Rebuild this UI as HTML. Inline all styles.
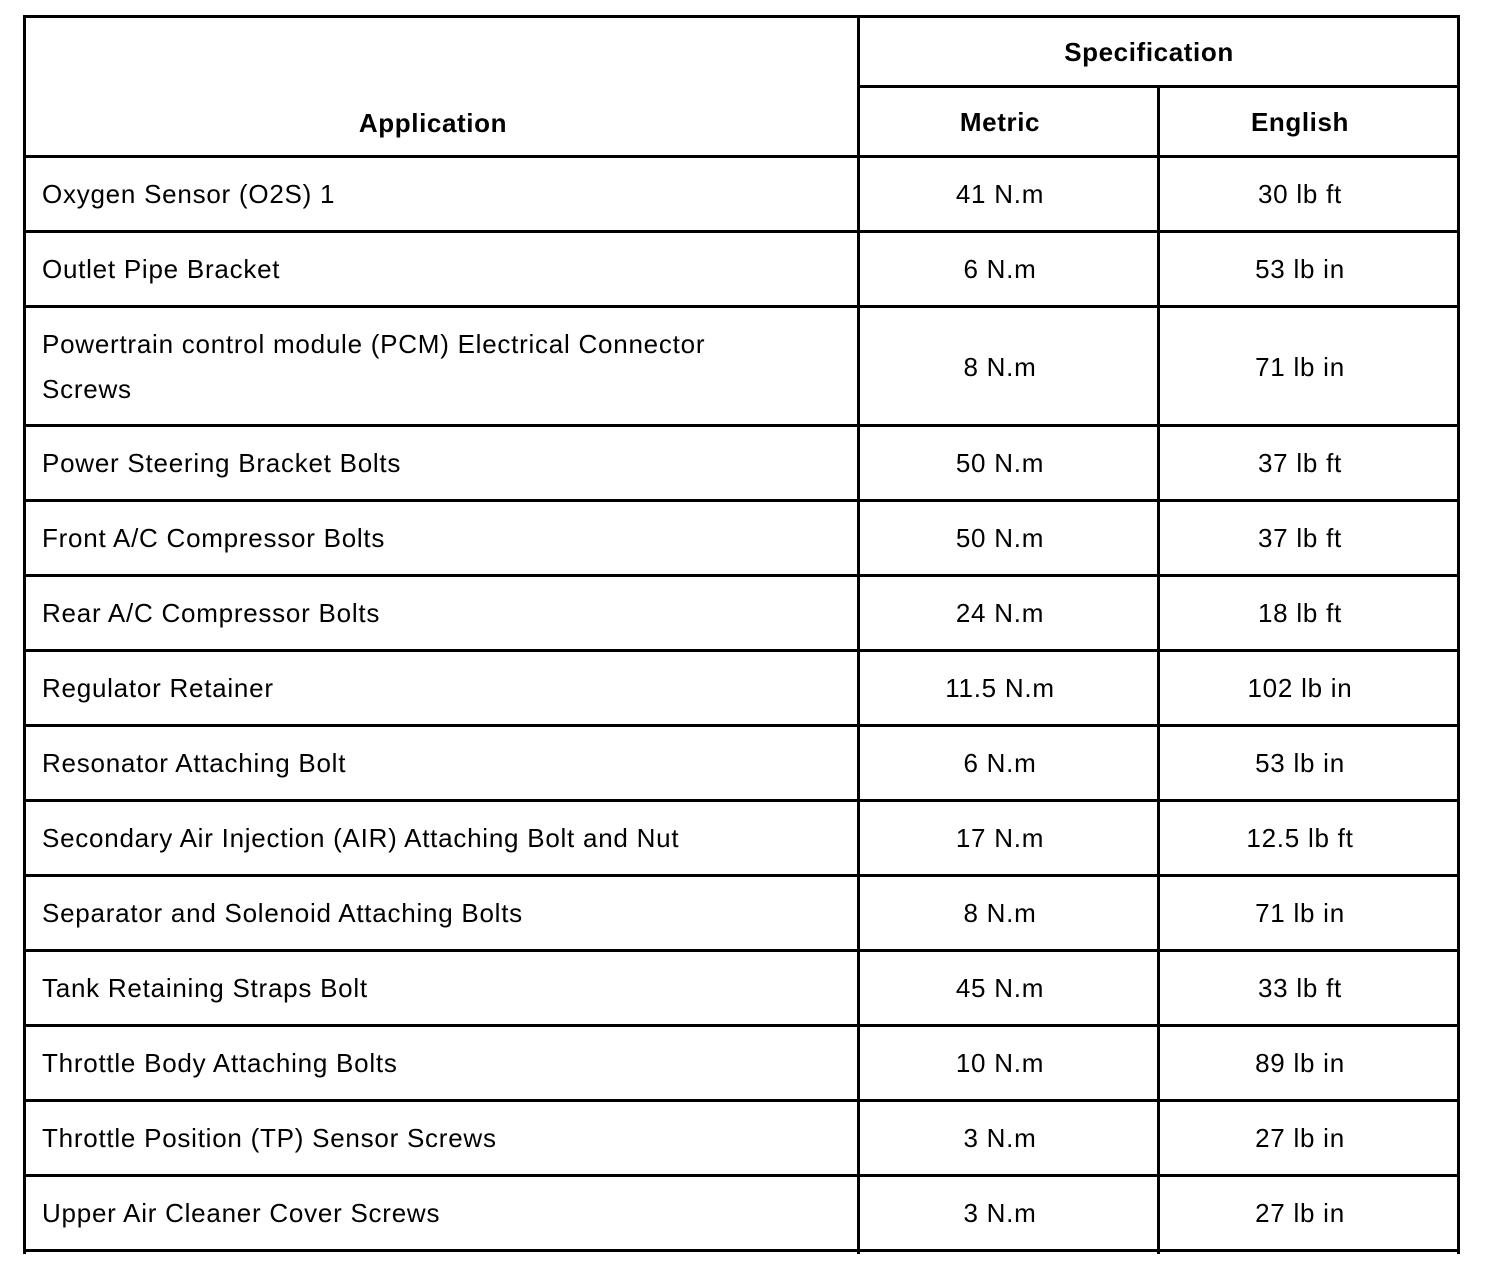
<!DOCTYPE html>
<html>
<head>
<meta charset="utf-8">
<style>
  html, body { margin:0; padding:0; background:#fff; }
  body { width:1504px; height:1272px; position:relative; overflow:hidden;
         font-family:"Liberation Sans", Arial, sans-serif; color:#000; }
  .h { position:absolute; background:#000; height:3px; }
  .v { position:absolute; background:#000; width:3px; }
  .c { position:absolute; display:flex; align-items:center; font-size:26px; letter-spacing:0.75px; white-space:nowrap; transform:translateY(1px); }
  .l { left:42px; width:800px; }
  .m { left:900px; width:200px; justify-content:center; }
  .e { left:1200px; width:200px; justify-content:center; }
  .b { font-weight:bold; letter-spacing:0.6px; }
  .two { line-height:45px; white-space:normal; }
</style>
</head>
<body>
<!-- horizontal lines -->
<div class="h" style="top:15px;left:23px;width:1437px;"></div>
<div class="h" style="top:85px;left:857px;width:603px;"></div>
<div class="h" style="top:155px;left:23px;width:1437px;"></div>
<div class="h" style="top:230px;left:23px;width:1437px;"></div>
<div class="h" style="top:305px;left:23px;width:1437px;"></div>
<div class="h" style="top:424px;left:23px;width:1437px;"></div>
<div class="h" style="top:499px;left:23px;width:1437px;"></div>
<div class="h" style="top:574px;left:23px;width:1437px;"></div>
<div class="h" style="top:649px;left:23px;width:1437px;"></div>
<div class="h" style="top:724px;left:23px;width:1437px;"></div>
<div class="h" style="top:799px;left:23px;width:1437px;"></div>
<div class="h" style="top:874px;left:23px;width:1437px;"></div>
<div class="h" style="top:949px;left:23px;width:1437px;"></div>
<div class="h" style="top:1024px;left:23px;width:1437px;"></div>
<div class="h" style="top:1099px;left:23px;width:1437px;"></div>
<div class="h" style="top:1174px;left:23px;width:1437px;"></div>
<div class="h" style="top:1249px;left:23px;width:1437px;"></div>
<!-- vertical lines -->
<div class="v" style="left:23px;top:15px;height:1239px;"></div>
<div class="v" style="left:857px;top:15px;height:1239px;"></div>
<div class="v" style="left:1157px;top:85px;height:1169px;"></div>
<div class="v" style="left:1457px;top:15px;height:1239px;"></div>

<!-- header -->
<div class="c b" style="left:25px;width:816px;justify-content:center;top:87px;height:70px;">Application</div>
<div class="c b" style="left:858px;width:582px;justify-content:center;top:16px;height:70px;">Specification</div>
<div class="c b m" style="top:86px;height:70px;">Metric</div>
<div class="c b e" style="top:86px;height:70px;">English</div>

<!-- rows -->
<div class="c l" style="top:156px;height:75px;">Oxygen Sensor (O2S) 1</div>
<div class="c m" style="top:156px;height:75px;">41 N.m</div>
<div class="c e" style="top:156px;height:75px;">30 lb ft</div>

<div class="c l" style="top:231px;height:75px;">Outlet Pipe Bracket</div>
<div class="c m" style="top:231px;height:75px;">6 N.m</div>
<div class="c e" style="top:231px;height:75px;">53 lb in</div>

<div class="c l" style="top:306px;height:120px;"><div class="two">Powertrain control module (PCM) Electrical Connector<br>Screws</div></div>
<div class="c m" style="top:306px;height:120px;">8 N.m</div>
<div class="c e" style="top:306px;height:120px;">71 lb in</div>

<div class="c l" style="top:425px;height:75px;">Power Steering Bracket Bolts</div>
<div class="c m" style="top:425px;height:75px;">50 N.m</div>
<div class="c e" style="top:425px;height:75px;">37 lb ft</div>

<div class="c l" style="top:500px;height:75px;">Front A/C Compressor Bolts</div>
<div class="c m" style="top:500px;height:75px;">50 N.m</div>
<div class="c e" style="top:500px;height:75px;">37 lb ft</div>

<div class="c l" style="top:575px;height:75px;">Rear A/C Compressor Bolts</div>
<div class="c m" style="top:575px;height:75px;">24 N.m</div>
<div class="c e" style="top:575px;height:75px;">18 lb ft</div>

<div class="c l" style="top:650px;height:75px;">Regulator Retainer</div>
<div class="c m" style="top:650px;height:75px;">11.5 N.m</div>
<div class="c e" style="top:650px;height:75px;">102 lb in</div>

<div class="c l" style="top:725px;height:75px;">Resonator Attaching Bolt</div>
<div class="c m" style="top:725px;height:75px;">6 N.m</div>
<div class="c e" style="top:725px;height:75px;">53 lb in</div>

<div class="c l" style="top:800px;height:75px;">Secondary Air Injection (AIR) Attaching Bolt and Nut</div>
<div class="c m" style="top:800px;height:75px;">17 N.m</div>
<div class="c e" style="top:800px;height:75px;">12.5 lb ft</div>

<div class="c l" style="top:875px;height:75px;">Separator and Solenoid Attaching Bolts</div>
<div class="c m" style="top:875px;height:75px;">8 N.m</div>
<div class="c e" style="top:875px;height:75px;">71 lb in</div>

<div class="c l" style="top:950px;height:75px;">Tank Retaining Straps Bolt</div>
<div class="c m" style="top:950px;height:75px;">45 N.m</div>
<div class="c e" style="top:950px;height:75px;">33 lb ft</div>

<div class="c l" style="top:1025px;height:75px;">Throttle Body Attaching Bolts</div>
<div class="c m" style="top:1025px;height:75px;">10 N.m</div>
<div class="c e" style="top:1025px;height:75px;">89 lb in</div>

<div class="c l" style="top:1100px;height:75px;">Throttle Position (TP) Sensor Screws</div>
<div class="c m" style="top:1100px;height:75px;">3 N.m</div>
<div class="c e" style="top:1100px;height:75px;">27 lb in</div>

<div class="c l" style="top:1175px;height:75px;">Upper Air Cleaner Cover Screws</div>
<div class="c m" style="top:1175px;height:75px;">3 N.m</div>
<div class="c e" style="top:1175px;height:75px;">27 lb in</div>
</body>
</html>
